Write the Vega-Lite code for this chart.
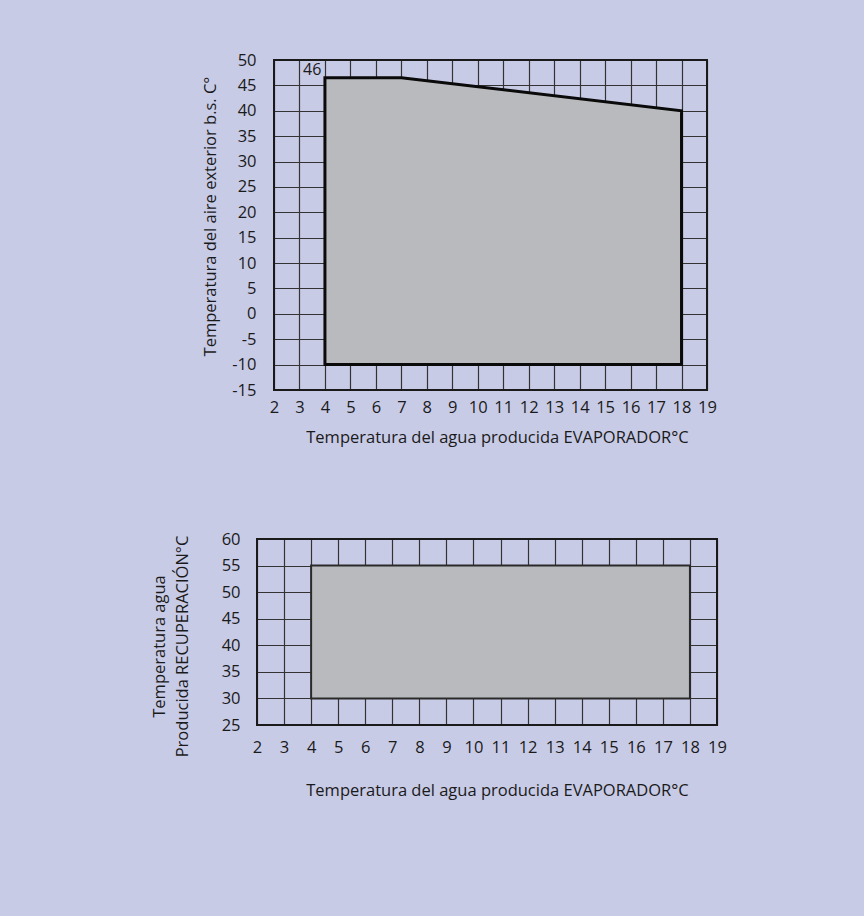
{
  "$schema": "https://vega.github.io/schema/vega-lite/v6.json",
  "background": "#c8cbe6",
  "padding": {"left": 150, "top": 52, "right": 137, "bottom": 117},
  "bounds": "flush",
  "spacing": 149,
  "datasets": {
    "top_area": [
      {"x": 4, "y": 46.5, "lo": -10},
      {"x": 7, "y": 46.5, "lo": -10},
      {"x": 18, "y": 40, "lo": -10}
    ],
    "top_outline": [
      {"x": 4, "y": -10, "o": 1},
      {"x": 4, "y": 46.5, "o": 2},
      {"x": 7, "y": 46.5, "o": 3},
      {"x": 18, "y": 40, "o": 4},
      {"x": 18, "y": -10, "o": 5},
      {"x": 4, "y": -10, "o": 6}
    ],
    "top_frame": [{"x": 2, "x2": 19, "y": -15, "y2": 50}],
    "top_label": [{"x": 3.5, "y": 48, "label": "46"}],
    "bottom_rect": [{"x": 4, "x2": 18, "y": 30, "y2": 55}],
    "bottom_frame": [{"x": 2, "x2": 19, "y": 25, "y2": 60}]
  },
  "vconcat": [
    {
      "width": 450,
      "height": 330,
      "encoding": {
        "x": {
          "field": "x", "type": "quantitative",
          "scale": {"domain": [2, 19], "range": [17, 450], "nice": false, "zero": false},
          "axis": {
            "values": [2,3,4,5,6,7,8,9,10,11,12,13,14,15,16,17,18,19],
            "labelPadding": 9,
            "labelExpr": "'' + datum.value",
            "title": "Temperatura del agua producida EVAPORADOR°C",
            "titleX": 240, "titleY": 47, "titleBaseline": "middle", "titleAlign": "center"
          }
        },
        "y": {
          "field": "y", "type": "quantitative",
          "scale": {"domain": [-15, 50], "nice": false, "zero": false},
          "axis": {
            "values": [-15,-10,-5,0,5,10,15,20,25,30,35,40,45,50],
            "labelPadding": 1,
            "labelExpr": "'' + datum.value",
            "title": "Temperatura del aire exterior b.s. C°",
            "titleX": -47, "titleY": 156, "titleAngle": -90, "titleBaseline": "middle", "titleAlign": "center"
          }
        }
      },
      "layer": [
        {
          "data": {"name": "top_area"},
          "mark": {"type": "area", "color": "#b9babe", "opacity": 1},
          "encoding": {"y2": {"field": "lo"}}
        },
        {
          "data": {"name": "top_outline"},
          "mark": {"type": "line", "color": "#0a0a0a", "strokeWidth": 3, "strokeJoin": "miter", "strokeCap": "square"},
          "encoding": {"order": {"field": "o", "type": "quantitative"}}
        },
        {
          "data": {"name": "top_frame"},
          "mark": {"type": "rect", "fillOpacity": 0, "stroke": "#1a1a1a", "strokeWidth": 2},
          "encoding": {"x2": {"field": "x2"}, "y2": {"field": "y2"}}
        },
        {
          "data": {"name": "top_label"},
          "mark": {"type": "text", "font": "Open Sans", "fontSize": 16, "color": "#1a1a1a"},
          "encoding": {"text": {"field": "label"}}
        }
      ]
    },
    {
      "width": 460,
      "height": 186,
      "encoding": {
        "x": {
          "field": "x", "type": "quantitative",
          "scale": {"domain": [2, 19], "nice": false, "zero": false},
          "axis": {
            "values": [2,3,4,5,6,7,8,9,10,11,12,13,14,15,16,17,18,19],
            "labelPadding": 14,
            "labelExpr": "'' + datum.value",
            "title": "Temperatura del agua producida EVAPORADOR°C",
            "titleX": 240, "titleY": 65, "titleBaseline": "middle", "titleAlign": "center"
          }
        },
        "y": {
          "field": "y", "type": "quantitative",
          "scale": {"domain": [25, 60], "nice": false, "zero": false},
          "axis": {
            "values": [25,30,35,40,45,50,55,60],
            "labelPadding": 17,
            "labelExpr": "'' + datum.value",
            "title": ["Temperatura agua", "Producida RECUPERACIÓN°C"],
            "titleLineHeight": 23,
            "titleX": -98, "titleY": 107, "titleAngle": -90, "titleBaseline": "middle", "titleAlign": "center"
          }
        }
      },
      "layer": [
        {
          "data": {"name": "bottom_rect"},
          "mark": {"type": "rect", "color": "#b9babe", "stroke": "#2a2a2a", "strokeWidth": 2},
          "encoding": {"x2": {"field": "x2"}, "y2": {"field": "y2"}}
        },
        {
          "data": {"name": "bottom_frame"},
          "mark": {"type": "rect", "fillOpacity": 0, "stroke": "#1a1a1a", "strokeWidth": 2},
          "encoding": {"x2": {"field": "x2"}, "y2": {"field": "y2"}}
        }
      ]
    }
  ],
  "config": {
    "view": {"stroke": null},
    "axis": {
      "labelFont": "Open Sans",
      "titleFont": "Open Sans",
      "labelColor": "#1a1a1a",
      "titleColor": "#1a1a1a",
      "titleFontWeight": "normal",
      "labelFontSize": 16.5,
      "titleFontSize": 16.5,
      "domain": false,
      "ticks": false,
      "grid": true,
      "gridColor": "#333333",
      "gridWidth": 1.2,
      "gridOpacity": 1,
      "labelOverlap": false,
      "labelFlush": false
    }
  }
}
